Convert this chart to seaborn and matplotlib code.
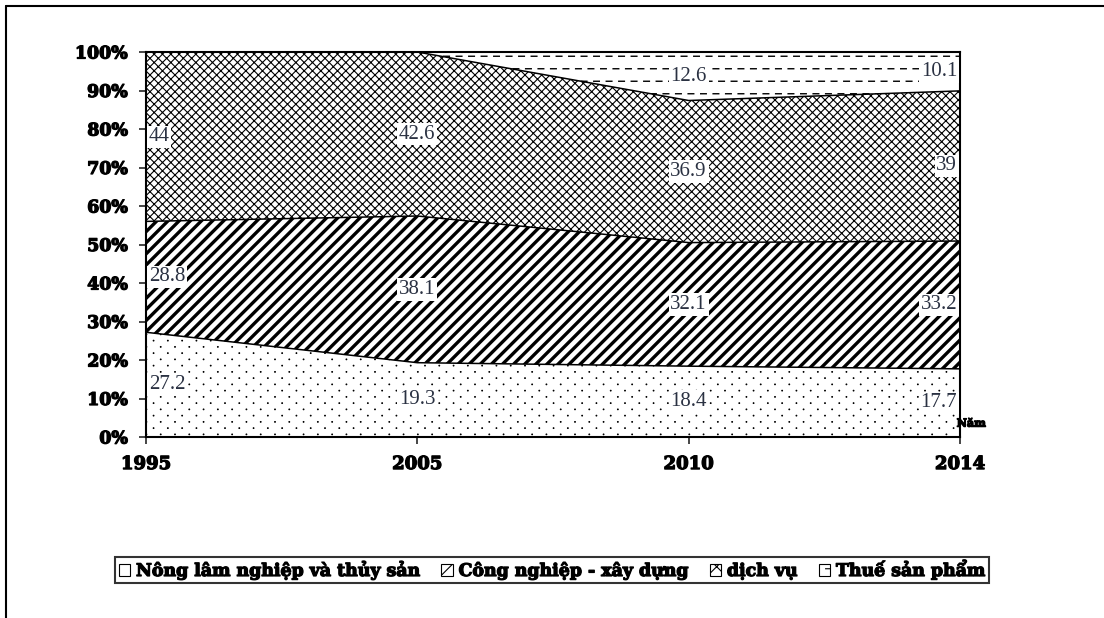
import numpy as np
import pandas as pd
import matplotlib
matplotlib.use("Agg")
import matplotlib.pyplot as plt
import matplotlib.hatch as mhatch
import matplotlib.patheffects as pe
from matplotlib.path import Path
from matplotlib.patches import Patch
from matplotlib.lines import Line2D
import seaborn as sns

# ---- data ----------------------------------------------------------------
years = ["1995", "2005", "2010", "2014"]
nong_lam = [27.2, 19.3, 18.4, 17.7]
cong_nghiep = [28.8, 38.1, 32.1, 33.2]
dich_vu = [44.0, 42.6, 36.9, 39.0]
thue = [0.0, 0.0, 12.6, 10.1]
series_names = ["Nông lâm nghiệp và thủy sản", "Công nghiệp - xây dựng",
                "dịch vụ", "Thuế sản phẩm"]
y_ticks = [0, 10, 20, 30, 40, 50, 60, 70, 80, 90, 100]
y_tick_labels = [f"{v}%" for v in y_ticks]
x_unit = "Năm"


# ---- custom hatch patterns ----------------------------------------------
class DashedRowHatch(mhatch.HatchPatternBase):
    """'-' drawn as staggered rows of short dashes."""
    dashes_per_row = 8
    dash_fraction = 0.45

    def __init__(self, hatch, density):
        self.num_rows = int((hatch.count('-') + hatch.count('+')) * 4)
        self.num_vertices = self.num_rows * self.dashes_per_row * 2

    def set_vertices_and_codes(self, vertices, codes):
        period = 1.0 / self.dashes_per_row
        k = 0
        for r in range(self.num_rows):
            y = (r + 0.5) / self.num_rows
            shift = 0.5 * period if r % 2 else 0.05 * period
            for d in range(self.dashes_per_row):
                x0 = d * period + shift
                vertices[k] = (x0, y)
                vertices[k + 1] = (x0 + period * self.dash_fraction, y)
                codes[k] = Path.MOVETO
                codes[k + 1] = Path.LINETO
                k += 2


class DotLatticeHatch(mhatch.HatchPatternBase):
    """'.' drawn as a sparse staggered lattice of tiny dots."""
    rows_per_tile = 16
    dots_per_row = 7
    radius = 0.005

    def __init__(self, hatch, density):
        circle = Path.unit_circle()
        self.shape_vertices = circle.vertices
        self.shape_codes = circle.codes
        n = self.rows_per_tile * self.dots_per_row if hatch.count('.') else 0
        self.num_vertices = n * len(circle.vertices)

    def set_vertices_and_codes(self, vertices, codes):
        nv = len(self.shape_vertices)
        shape = self.shape_vertices * self.radius
        period = 1.0 / self.dots_per_row
        k = 0
        for r in range(self.rows_per_tile):
            y = (r + 0.5) / self.rows_per_tile
            shift = 0.25 * period if r % 2 == 0 else 0.75 * period
            for d in range(self.dots_per_row):
                vertices[k:k + nv] = shape + (d * period + shift, y)
                codes[k:k + nv] = self.shape_codes
                k += nv


mhatch._hatch_types[mhatch._hatch_types.index(mhatch.HorizontalHatch)] = DashedRowHatch
mhatch._hatch_types[mhatch._hatch_types.index(mhatch.SmallFilledCircles)] = DotLatticeHatch

# ---- style ---------------------------------------------------------------
sns.set_style("white")
plt.rcParams["font.family"] = ["DejaVu Serif", "DejaVu Sans"]
plt.rcParams["axes.edgecolor"] = "black"
heavy = [pe.withStroke(linewidth=0.9, foreground="black")]

fig = plt.figure(figsize=(11.04, 6.18), dpi=100)
ax = fig.add_axes([146 / 1104, 1 - 437 / 618, (960 - 146) / 1104, (437 - 52) / 618])

x = np.arange(len(years))
series = [nong_lam, cong_nghiep, dich_vu, thue]
hatches = [".", "///", "xxxx", "--"]
hatch_lws = [0.6, 2.4, 0.8, 1.0]

# stacked areas
bottom = np.zeros(len(years))
rows = []
for name, vals, h, hlw in zip(series_names, series, hatches, hatch_lws):
    top = bottom + np.array(vals)
    plt.rcParams["hatch.linewidth"] = hlw
    coll = ax.fill_between(x, bottom, top, facecolor="white", edgecolor="black",
                           hatch=h, linewidth=0)
    if hasattr(coll, "set_hatch_linewidth"):
        coll.set_hatch_linewidth(hlw)
    for xi, t in zip(x, top):
        rows.append({"pos": xi, "top": t, "series": name})
    bottom = top

# boundary lines between the stacked areas
bounds = pd.DataFrame(rows)
sns.lineplot(data=bounds, x="pos", y="top", units="series", estimator=None,
             color="black", linewidth=1.1, ax=ax, legend=False)

# value labels at the centre of each band
bottom = np.zeros(len(years))
for vals in series:
    vals = np.array(vals)
    centres = bottom + vals / 2
    for i, (v, c) in enumerate(zip(vals, centres)):
        if v <= 0:
            continue
        if i == 0:
            ha, dx = "left", 2
        elif i == len(years) - 1:
            ha, dx = "right", -2
        else:
            ha, dx = "center", 0
        ax.annotate(f"{v:g}", (x[i], c), xytext=(dx, 0), textcoords="offset points",
                    ha=ha, va="center", fontsize=15, family="Liberation Serif",
                    color="#2a3142",
                    bbox=dict(boxstyle="square,pad=0.08", fc="white", ec="none"))
    bottom = bottom + vals

# axes
ax.set_xlim(0, len(years) - 1)
ax.set_ylim(0, 100)
ax.set_xticks(x, years)
ax.set_yticks(y_ticks, y_tick_labels)
ax.set_xlabel("")
ax.set_ylabel("")
for lab in ax.get_xticklabels():
    lab.set_fontweight("bold")
    lab.set_fontsize(13)
    lab.set_path_effects(heavy)
for lab in ax.get_yticklabels():
    lab.set_fontweight("bold")
    lab.set_fontsize(12.5)
    lab.set_path_effects(heavy)
ax.tick_params(axis="y", direction="out", length=5, width=1.2, pad=8, left=True,
               labelcolor="black")
ax.tick_params(axis="x", direction="out", length=5, width=1.2, pad=8, bottom=True,
               labelcolor="black")
for sp in ax.spines.values():
    sp.set_visible(True)
    sp.set_color("black")
    sp.set_linewidth(1.5)

ax.text(0.996, 0.036, x_unit, transform=ax.transAxes, ha="left", va="center",
        fontsize=8, fontweight="bold", color="black", path_effects=heavy)

# legend
handles = [Patch(facecolor="white", edgecolor="black", hatch=h, linewidth=0.8)
           for h in ["", "//", "xx", "--"]]
plt.rcParams["hatch.linewidth"] = 0.8
leg = fig.legend(handles, series_names, loc="center", bbox_to_anchor=(0.5, 1 - 570 / 618),
                 ncol=4, frameon=True, fancybox=False, edgecolor="black",
                 prop={"family": "DejaVu Serif", "weight": "bold", "size": 12.5},
                 handlelength=0.65, handleheight=0.65, handletextpad=0.35,
                 columnspacing=1.2, borderpad=0.2, borderaxespad=0)
leg.get_frame().set_linewidth(1.5)
for t in leg.get_texts():
    t.set_color("black")
    t.set_path_effects(heavy)

# outer frame of the figure
fig.add_artist(Line2D([6 / 1104, 6 / 1104], [1 - 6 / 618, 0], transform=fig.transFigure,
                      color="black", linewidth=1.5))
fig.add_artist(Line2D([6 / 1104, 1], [1 - 6 / 618, 1 - 6 / 618], transform=fig.transFigure,
                      color="black", linewidth=1.5))

fig.savefig("out.png", dpi=100)
